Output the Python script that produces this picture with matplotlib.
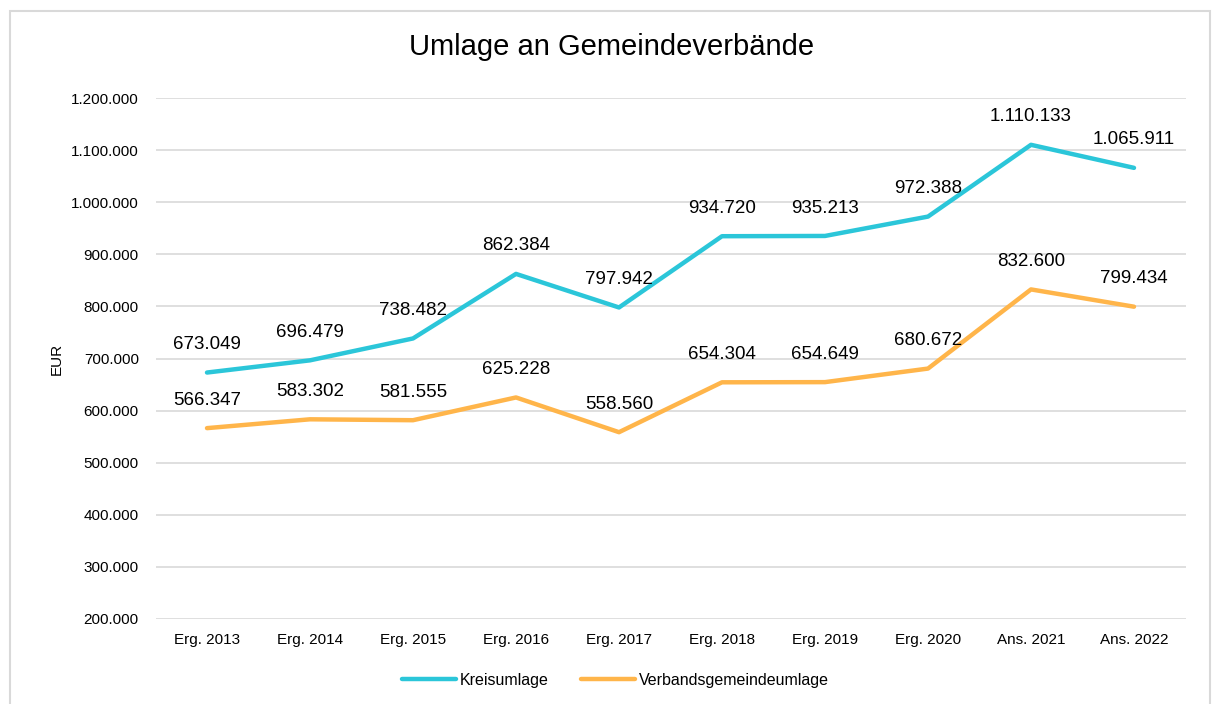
import matplotlib.pyplot as plt
from matplotlib.ticker import FuncFormatter

plt.rcParams['font.family'] = ['Liberation Sans', 'DejaVu Sans']

categories = ['Erg. 2013', 'Erg. 2014', 'Erg. 2015', 'Erg. 2016', 'Erg. 2017',
              'Erg. 2018', 'Erg. 2019', 'Erg. 2020', 'Ans. 2021', 'Ans. 2022']
kreisumlage = [673049, 696479, 738482, 862384, 797942,
               934720, 935213, 972388, 1110133, 1065911]
verbandsumlage = [566347, 583302, 581555, 625228, 558560,
                  654304, 654649, 680672, 832600, 799434]


def de_format(v, pos=None):
    return f'{int(round(v)):,}'.replace(',', '.')


fig = plt.figure(figsize=(12.12, 7.04), dpi=100)
ax = fig.add_axes([155.5 / 1212, 1 - 619 / 704, 1030 / 1212, 521 / 704])

# chart border (Excel style)
border = plt.Rectangle((10 / 1212, -0.01), 1200 / 1212, 1 - 11 / 704 + 0.01,
                       transform=fig.transFigure, fill=False,
                       edgecolor='#D9D9D9', linewidth=1.5)
fig.patches.append(border)

x = list(range(len(categories)))
ax.plot(x, kreisumlage, color='#2BC6D9', linewidth=3.2, label='Kreisumlage',
        solid_capstyle='round', solid_joinstyle='round')
ax.plot(x, verbandsumlage, color='#FFB54A', linewidth=3.2,
        label='Verbandsgemeindeumlage', solid_capstyle='round',
        solid_joinstyle='round')

for xi, v in zip(x, kreisumlage):
    ax.annotate(de_format(v), (xi, v), xytext=(0, 14), textcoords='offset points',
                ha='center', va='bottom', fontsize=13.5, color='black')
for xi, v in zip(x, verbandsumlage):
    ax.annotate(de_format(v), (xi, v), xytext=(0, 14), textcoords='offset points',
                ha='center', va='bottom', fontsize=13.5, color='black')

ax.set_xlim(-0.5, len(categories) - 0.5)
ax.set_ylim(200000, 1200000)
ax.set_yticks(range(200000, 1200001, 100000))
ax.yaxis.set_major_formatter(FuncFormatter(de_format))
ax.set_xticks(x)
ax.set_xticklabels(categories)
ax.tick_params(axis='both', length=0, labelsize=11, colors='black')
ax.tick_params(axis='y', pad=12)
ax.tick_params(axis='x', pad=10)
ax.grid(axis='y', color='#D9D9D9', linewidth=1.2)
ax.set_axisbelow(True)
for s in ax.spines.values():
    s.set_visible(False)

ax.set_ylabel('EUR', fontsize=11, labelpad=5)
fig.text(0.505, 1 - 47 / 704, 'Umlage an Gemeindeverbände', ha='center',
         va='center', fontsize=21)

ax.legend(loc='center', bbox_to_anchor=(0.5 - 55 / 1030, -(680 - 619) / 521),
          ncol=2, frameon=False, fontsize=11.5, handlelength=3.4,
          columnspacing=2.0, handletextpad=0.25)

fig.savefig('out.png', dpi=100)
